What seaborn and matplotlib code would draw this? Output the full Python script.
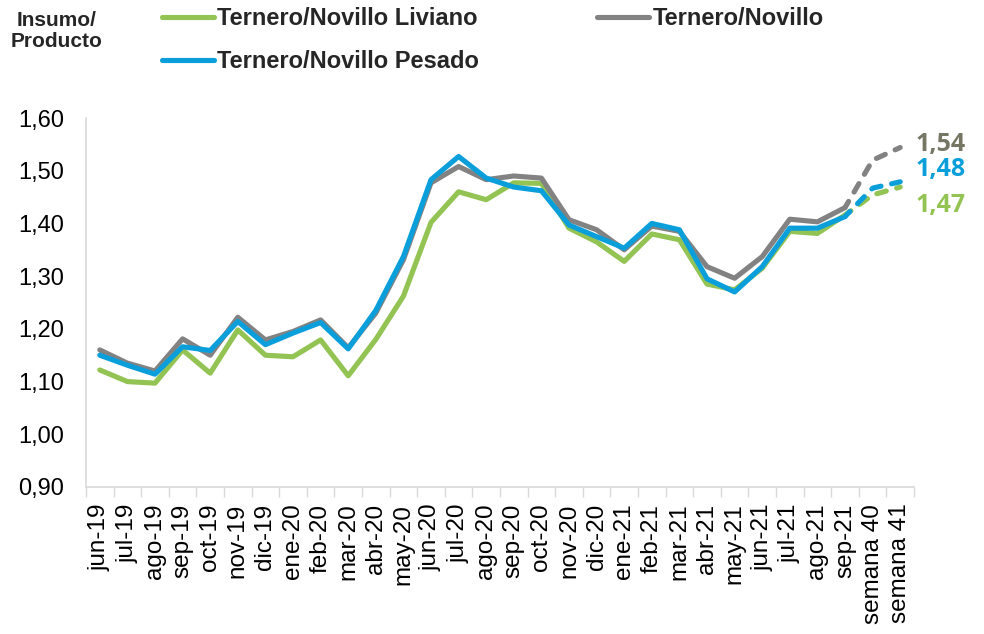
import matplotlib
matplotlib.use("Agg")
import matplotlib.pyplot as plt
import seaborn as sns
import pandas as pd
import numpy as np
from matplotlib.lines import Line2D
from matplotlib.ticker import FuncFormatter

# ---------------- data ----------------
categories = ['jun-19', 'jul-19', 'ago-19', 'sep-19', 'oct-19', 'nov-19', 'dic-19',
              'ene-20', 'feb-20', 'mar-20', 'abr-20', 'may-20', 'jun-20', 'jul-20',
              'ago-20', 'sep-20', 'oct-20', 'nov-20', 'dic-20', 'ene-21', 'feb-21',
              'mar-21', 'abr-21', 'may-21', 'jun-21', 'jul-21', 'ago-21', 'sep-21',
              'semana 40', 'semana 41']

liviano = [1.122, 1.100, 1.097, 1.160, 1.116, 1.198, 1.150, 1.147, 1.179, 1.111,
           1.180, 1.262, 1.402, 1.460, 1.445, 1.477, 1.476, 1.391, 1.365, 1.328,
           1.380, 1.369, 1.285, 1.274, 1.315, 1.385, 1.381, 1.416, 1.454, 1.469]

novillo = [1.160, 1.135, 1.120, 1.181, 1.150, 1.222, 1.179, 1.195, 1.217, 1.164,
           1.230, 1.331, 1.477, 1.508, 1.483, 1.490, 1.486, 1.407, 1.388, 1.350,
           1.395, 1.385, 1.318, 1.296, 1.337, 1.408, 1.403, 1.430, 1.520, 1.544]

pesado = [1.150, 1.131, 1.114, 1.166, 1.159, 1.214, 1.170, 1.192, 1.212, 1.162,
          1.235, 1.337, 1.483, 1.527, 1.486, 1.469, 1.462, 1.397, 1.375, 1.353,
          1.400, 1.388, 1.295, 1.270, 1.318, 1.391, 1.391, 1.413, 1.467, 1.479]

series_names = ['Ternero/Novillo Liviano', 'Ternero/Novillo', 'Ternero/Novillo Pesado']
y_ticks = [0.90, 1.00, 1.10, 1.20, 1.30, 1.40, 1.50, 1.60]
n_monthly = 28  # last monthly point index + 1 (sep-21); weekly points dashed

# ---------------- style ----------------
C_GREEN = '#92C353'
C_GRAY = '#828282'
C_BLUE = '#0A9FDB'
C_LBL_GRAY = '#767664'
SPINE = '#D9D9D9'
LW = 3.7

sns.set_theme(style='white')
plt.rcParams['font.family'] = ['Liberation Sans', 'DejaVu Sans']

fig = plt.figure(figsize=(9.84, 6.34), dpi=100)
ax = fig.add_axes([86 / 984, 1 - 487 / 634, (914 - 86) / 984, (487 - 118) / 634])

x = np.arange(len(categories))
data = {series_names[0]: liviano, series_names[1]: novillo, series_names[2]: pesado}
colors = {series_names[0]: C_GREEN, series_names[1]: C_GRAY, series_names[2]: C_BLUE}

for name in series_names:
    df = pd.DataFrame({'x': x, 'y': data[name]})
    sns.lineplot(data=df.iloc[:n_monthly], x='x', y='y', color=colors[name], lw=LW,
                 ax=ax, solid_capstyle='round', solid_joinstyle='round')
for name in series_names:
    df = pd.DataFrame({'x': x, 'y': data[name]})
    sns.lineplot(data=df.iloc[n_monthly - 1:], x='x', y='y', color=colors[name], lw=LW,
                 ax=ax, linestyle=(0.5, (1.9, 2.1)), dash_capstyle='round')

ax.set_xlim(-0.5, len(categories) - 0.5)
ax.set_ylim(0.90, 1.60)
ax.set_yticks(y_ticks)
ax.yaxis.set_major_formatter(FuncFormatter(lambda v, p: f"{v:.2f}".replace('.', ',')))
ax.set_xticks(x)
ax.set_xticklabels(categories, rotation=90)
ax.set_xticks(np.arange(-0.5, len(categories), 1), minor=True)
ax.tick_params(axis='x', which='major', length=0, pad=12, labelsize=17.5, labelcolor='black')
ax.tick_params(axis='x', which='minor', bottom=True, length=7, width=1, color=SPINE,
               direction='out')
ax.tick_params(axis='y', which='major', length=0, pad=16, labelsize=17, labelcolor='black')
ax.set_xlabel('')
ax.set_ylabel('')
ax.grid(False)
for s in ['top', 'right']:
    ax.spines[s].set_visible(False)
for s in ['left', 'bottom']:
    ax.spines[s].set_color(SPINE)
    ax.spines[s].set_linewidth(1.2)
ax.set_facecolor('white')

# end labels
end_offsets = {series_names[1]: (11, 2, C_LBL_GRAY),
               series_names[2]: (11, 9, C_BLUE),
               series_names[0]: (11, -13, C_GREEN)}
for name in series_names:
    dx, dy, col = end_offsets[name]
    v = data[name][-1]
    ax.annotate(f"{v:.2f}".replace('.', ','), xy=(x[-1], v), xytext=(dx, dy),
                textcoords='offset points', ha='left', va='center',
                fontsize=18, fontweight='bold', color=col,
                family=['Open Sans', 'DejaVu Sans'], annotation_clip=False)

# legend
handles = [Line2D([0], [0], color=colors[series_names[0]], lw=LW, solid_capstyle='round'),
           Line2D([0], [0], color=colors[series_names[2]], lw=LW, solid_capstyle='round'),
           Line2D([0], [0], color=colors[series_names[1]], lw=LW, solid_capstyle='round')]
labels = [series_names[0], series_names[2], series_names[1]]
fig.legend(handles, labels, loc='upper left', bbox_to_anchor=(162 / 984, 1 - 7 / 634),
           ncol=2, frameon=False, borderpad=0, borderaxespad=0,
           handlelength=2.2, handletextpad=0.15, columnspacing=5.0, labelspacing=0.85,
           prop={'weight': 'bold', 'size': 17, 'family': ['Liberation Sans', 'DejaVu Sans']})

fig.text(57 / 984, 1 - 31 / 634, 'Insumo/\nProducto', ha='center', va='center',
         fontsize=15, fontweight='bold', linespacing=1.1)

fig.savefig('out.png', dpi=100, facecolor='white')
